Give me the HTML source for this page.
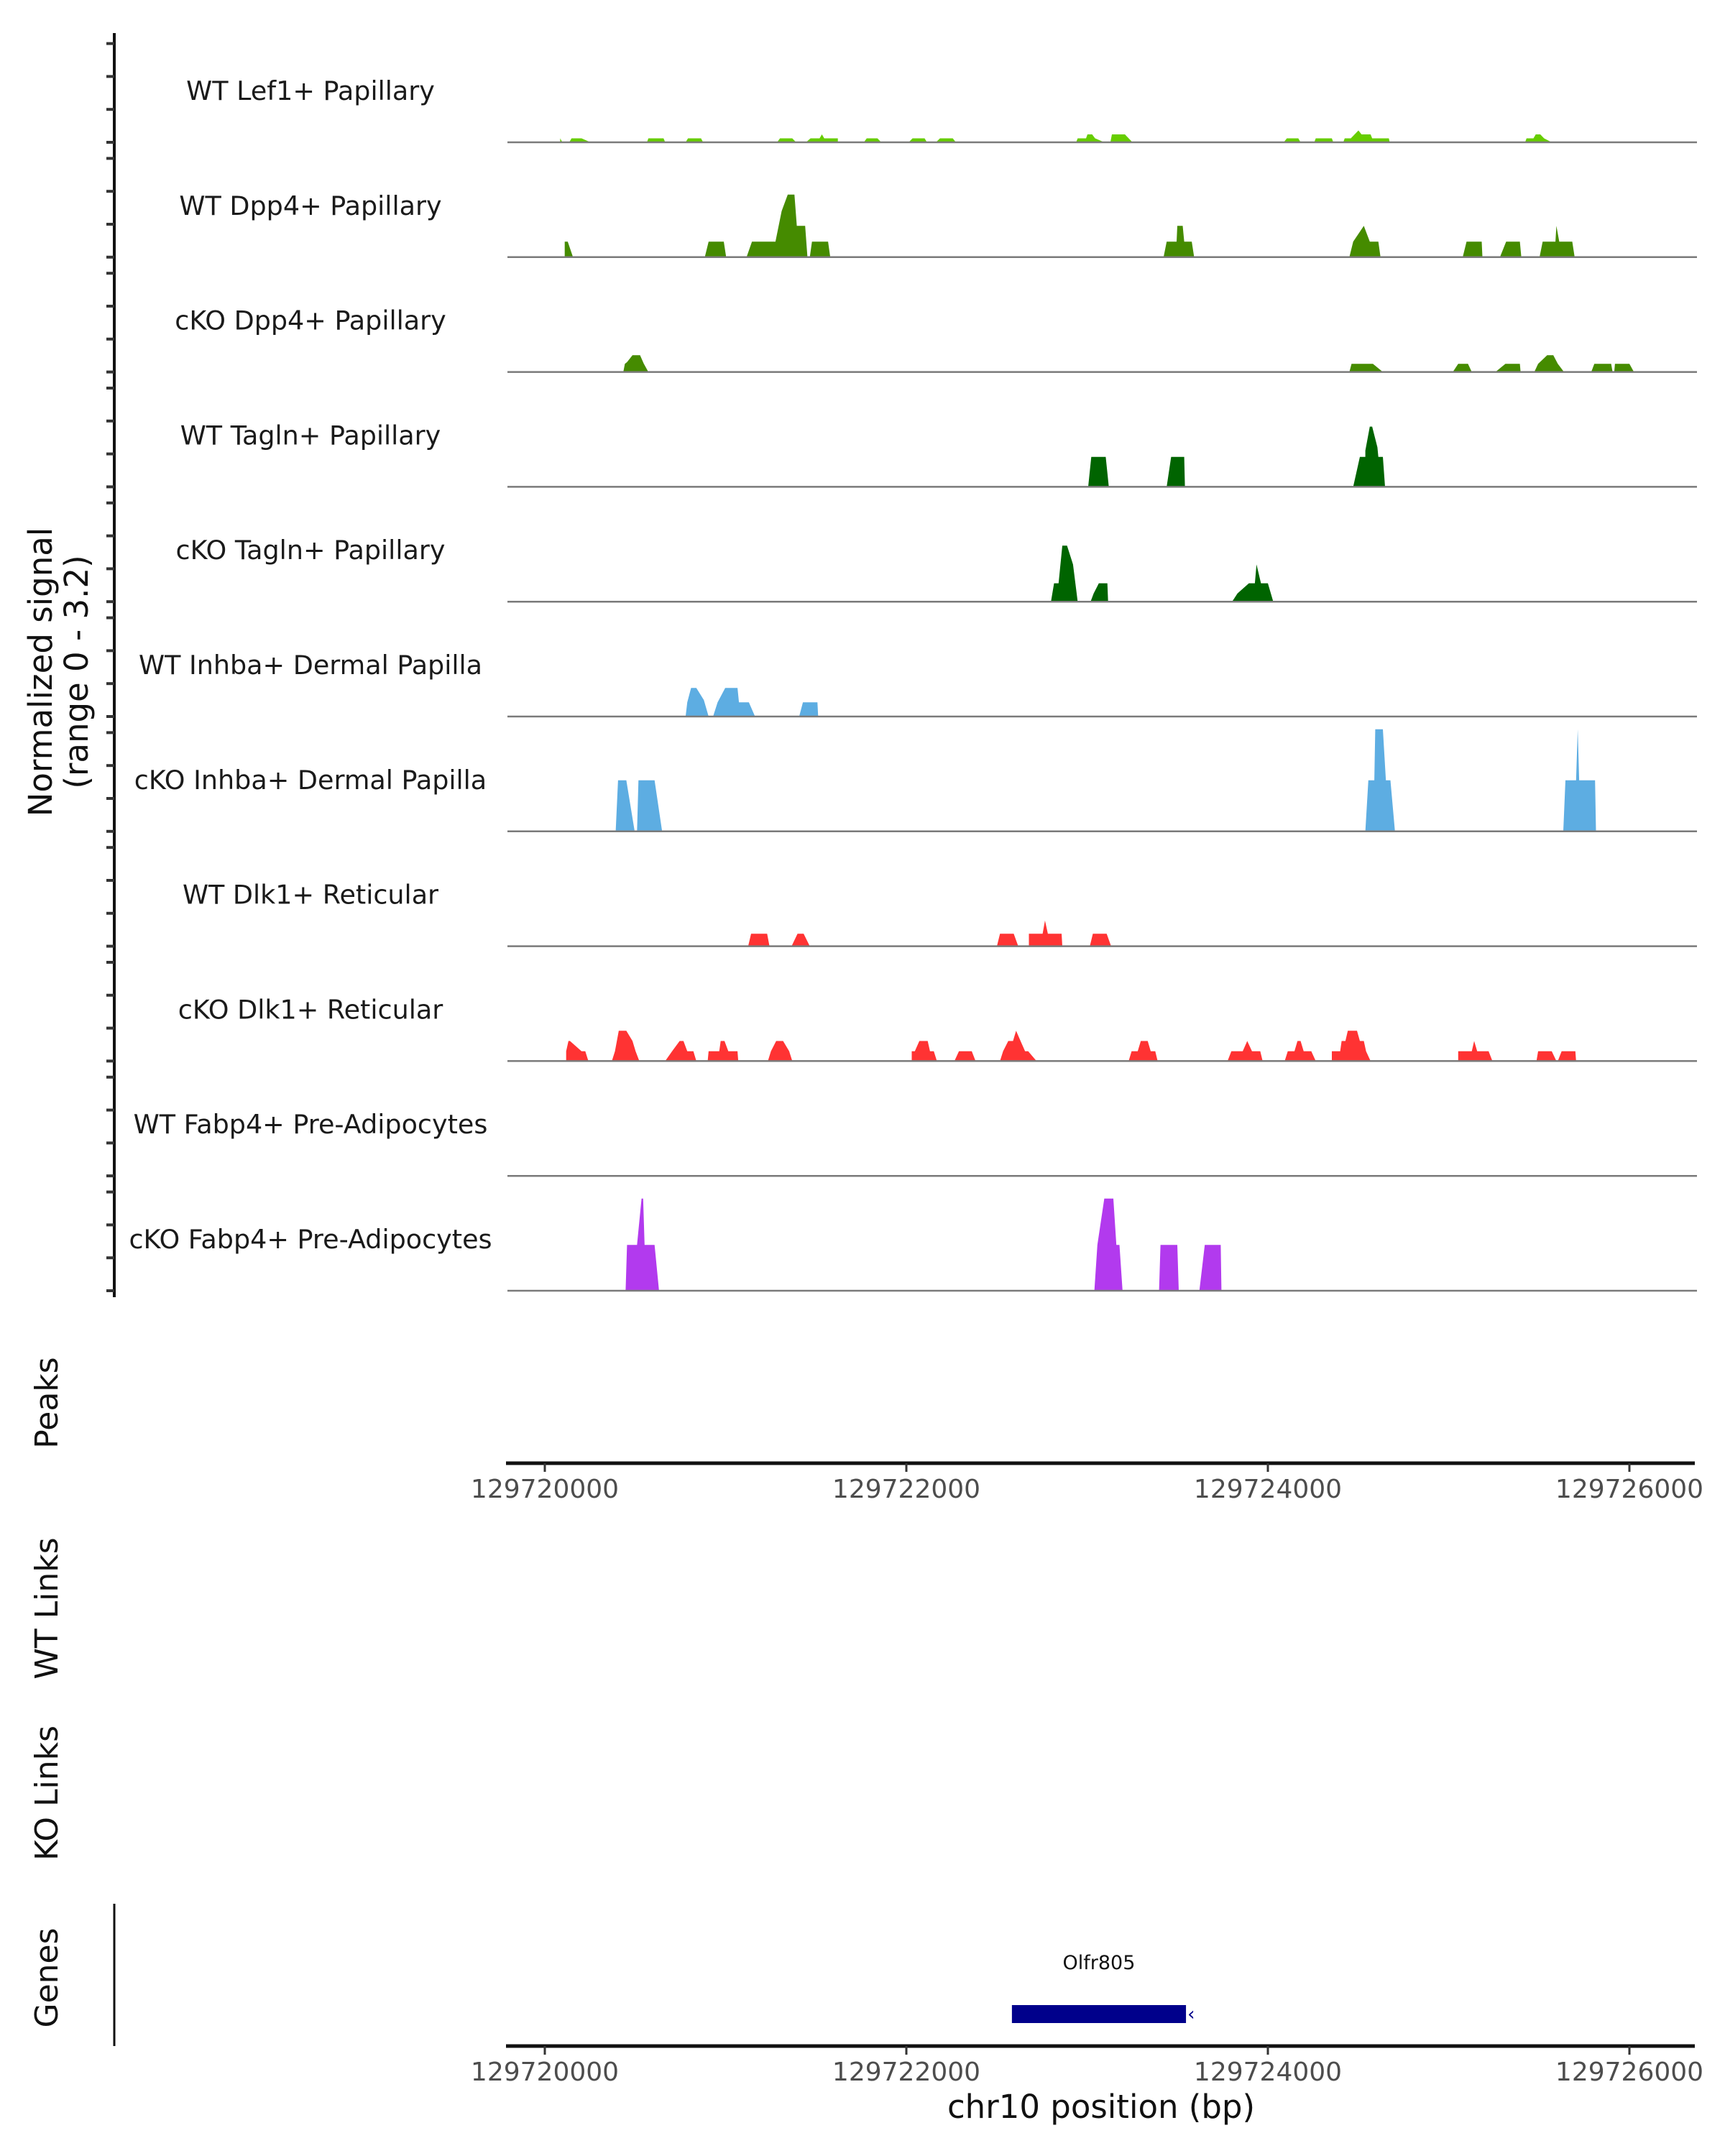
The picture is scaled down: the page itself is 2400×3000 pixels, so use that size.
<!DOCTYPE html>
<html><head><meta charset="utf-8"><style>
html,body{margin:0;padding:0;background:#fff;}
svg{display:block;font-family:"DejaVu Sans","Liberation Sans",sans-serif;}
</style></head><body>
<svg id="chart" width="2400" height="3000" viewBox="0 0 2400 3000" xmlns="http://www.w3.org/2000/svg">
<g id="tracks"></g>
<g id="yaxis"></g>
<text transform="translate(80,935) rotate(-90)" text-anchor="middle" font-size="45" fill="#111"><tspan x="0" dy="-8">Normalized signal</tspan><tspan x="0" dy="50">(range 0 - 3.2)</tspan></text>
<text transform="translate(80,1952) rotate(-90)" text-anchor="middle" font-size="44" fill="#111">Peaks</text>
<text transform="translate(80,2238) rotate(-90)" text-anchor="middle" font-size="44" fill="#111">WT Links</text>
<text transform="translate(80,2495) rotate(-90)" text-anchor="middle" font-size="44" fill="#111">KO Links</text>
<text transform="translate(80,2752) rotate(-90)" text-anchor="middle" font-size="44" fill="#111">Genes</text>
<line x1="159" y1="2649" x2="159" y2="2847" stroke="#111" stroke-width="3"/>
<g id="xaxis1"></g>
<g id="xaxis2"></g>
<g id="genes"></g>
<text x="1532" y="2947" text-anchor="middle" font-size="45" fill="#111">chr10 position (bp)</text>
</svg>
<script>
const NS="http://www.w3.org/2000/svg";
const regionStart=129720000;
const tickValues=[129720000,129722000,129724000,129726000];
const tickLabels=["129720000","129722000","129724000","129726000"];
const trackNames=["WT Lef1+ Papillary","WT Dpp4+ Papillary","cKO Dpp4+ Papillary","WT Tagln+ Papillary","cKO Tagln+ Papillary","WT Inhba+ Dermal Papilla","cKO Inhba+ Dermal Papilla","WT Dlk1+ Reticular","cKO Dlk1+ Reticular","WT Fabp4+ Pre-Adipocytes","cKO Fabp4+ Pre-Adipocytes"];
const trackColors=["#66cd00","#458b00","#458b00","#006400","#006400","#5dade2","#5dade2","#ff3333","#ff3333","#b23aee","#b23aee"];
const lef1WTPos=[85,85,97,135,148,203,253,565,573,657,666,779,792,864,876,1285,1301,1369,1390,1445,1470,1520,1533,1546,1621,1621,1765,1781,1840,1861,2013,2034,2101,2114,2164,2186,2257,2274,2939,2948,2994,3002,3028,3044,3095,3129,3137,3209,3251,4088,4105,4168,4181,4257,4265,4354,4362,4417,4425,4459,4480,4501,4518,4568,4577,4669,4674,5423,5431,5469,5482,5507,5528,5570];
const lef1WTVal=[0,.12,0,0,.12,.12,0,0,.12,.12,0,0,.12,.12,0,0,.12,.12,0,0,.12,.12,.24,.12,.12,0,0,.12,.12,0,0,.12,.12,0,0,.12,.12,0,0,.12,.12,.24,.24,.12,0,0,.24,.24,0,0,.12,.12,0,0,.12,.12,0,0,.12,.12,.24,.36,.24,.24,.12,.12,0,0,.12,.12,.24,.24,.12,0];
const dpp4WTPos=[110,110,127,156,885,906,990,1003,1116,1146,1276,1310,1344,1381,1394,1440,1453,1466,1478,1567,1579,3423,3440,3495,3499,3529,3537,3579,3592,4451,4472,4531,4564,4611,4623,5078,5099,5183,5187,5284,5318,5394,5402,5503,5520,5591,5596,5612,5684,5697];
const dpp4WTVal=[0,.47,.47,0,0,.47,.47,0,0,.47,.47,1.4,1.9,1.9,.95,.95,0,0,.47,.47,0,0,.47,.47,.95,.95,.47,.47,0,0,.47,.95,.47,.47,0,0,.47,.47,0,0,.47,.47,0,0,.47,.47,.95,.47,.47,0];
const dpp4KOPos=[434,443,455,485,527,548,573,4451,4463,4581,4636,5023,5053,5107,5128,5259,5314,5394,5398,5474,5495,5545,5579,5604,5638,5789,5806,5899,5907,5916,5920,6000,6025];
const dpp4KOVal=[0,.25,.3,.51,.51,.25,0,0,.25,.25,0,0,.25,.25,0,0,.25,.25,0,0,.25,.51,.51,.25,0,0,.25,.25,0,0,.25,.25,0];
const taglnWTPos=[3006,3023,3103,3120,3440,3465,3537,3541,4472,4509,4539,4539,4564,4577,4606,4611,4636,4648];
const taglnWTVal=[0,.91,.91,0,0,.91,.91,0,0,.91,.91,1.1,1.83,1.83,1.2,.91,.91,0];
const taglnKOPos=[2800,2817,2842,2863,2889,2922,2948,3019,3036,3065,3112,3116,3802,3832,3895,3928,3937,3962,4000,4030];
const taglnKOVal=[0,.56,.56,1.7,1.7,1.13,0,0,.25,.56,.56,0,0,.25,.56,.56,1.13,.56,.56,0];
const inhbaWTPos=[779,788,809,838,880,906,931,956,998,1066,1074,1129,1163,1407,1428,1508,1512];
const inhbaWTVal=[0,.43,.87,.87,.5,0,0,.43,.87,.87,.43,.43,0,0,.43,.43,0];
const inhbaKOPos=[392,405,451,497,510,518,607,649,4539,4556,4589,4594,4636,4653,4678,4703,5634,5646,5705,5714,5722,5810,5815];
const inhbaKOVal=[0,1.55,1.55,0,0,1.55,1.55,0,0,1.55,1.55,3.1,3.1,1.55,1.55,0,0,1.55,1.55,3.1,1.55,1.55,0];
const dlk1WTPos=[1125,1141,1230,1243,1365,1398,1432,1466,2501,2518,2594,2619,2678,2678,2754,2767,2783,2859,2863,3015,3032,3108,3133];
const dlk1WTVal=[0,.38,.38,0,0,.38,.38,0,0,.38,.38,0,0,.38,.38,.78,.38,.38,0,0,.38,.38,0];
const dlk1KOPos=[118,118,131,139,203,224,241,371,388,409,451,485,502,523,666,704,746,767,788,822,838,901,906,965,973,994,1015,1066,1070,1234,1251,1280,1318,1352,1369,2030,2030,2047,2072,2118,2131,2152,2169,2266,2291,2362,2383,2518,2535,2564,2590,2607,2632,2657,2674,2720,3230,3246,3280,3297,3335,3352,3377,3390,3777,3798,3861,3886,3912,3958,3971,4093,4110,4147,4164,4181,4198,4240,4265,4354,4354,4400,4408,4429,4442,4493,4509,4531,4543,4568,5053,5053,5128,5141,5158,5221,5242,5486,5495,5570,5596,5604,5625,5701,5705];
const dlk1KOVal=[0,.3,.61,.61,.3,.3,0,0,.3,.92,.92,.61,.3,0,0,.3,.61,.61,.3,.3,0,0,.3,.3,.61,.61,.3,.3,0,0,.3,.61,.61,.3,0,0,.3,.3,.61,.61,.3,.3,0,0,.3,.3,0,0,.3,.61,.61,.92,.61,.3,.3,0,0,.3,.3,.61,.61,.3,.3,0,0,.3,.3,.61,.3,.3,0,0,.3,.3,.61,.61,.3,.3,0,0,.3,.3,.61,.61,.92,.92,.61,.61,.3,0,0,.3,.3,.61,.3,.3,0,0,.3,.3,0,0,.3,.3,0];
const fabp4WTPos=[];
const fabp4WTVal=[];
const fabp4KOPos=[447,455,510,535,544,552,607,632,3040,3057,3095,3145,3162,3179,3196,3398,3406,3499,3507,3621,3651,3739,3743];
const fabp4KOVal=[0,1.39,1.39,2.8,2.8,1.39,1.39,0,0,1.39,2.8,2.8,1.39,1.39,0,0,1.39,1.39,0,0,1.39,1.39,0];
const trackPos=[lef1WTPos,dpp4WTPos,dpp4KOPos,taglnWTPos,taglnKOPos,inhbaWTPos,inhbaKOPos,dlk1WTPos,dlk1KOPos,fabp4WTPos,fabp4KOPos];
const trackVal=[lef1WTVal,dpp4WTVal,dpp4KOVal,taglnWTVal,taglnKOVal,inhbaWTVal,inhbaKOVal,dlk1WTVal,dlk1KOVal,fabp4WTVal,fabp4KOVal];
const geneName="Olfr805";
const geneStart=129722584;
const geneEnd=129723547;

const X0=758,X1=2267;
function xs(bp){return X0+(bp-regionStart)/6000*(X1-X0);}
function xsOff(off){return xs(regionStart+off);}
const BASE0=198,TRACK_STEP=159.8,UNIT=45.8;
function baseY(i){return BASE0+i*TRACK_STEP;}
function ys(i,v){return baseY(i)-v*UNIT;}
function mk(tag,attrs,parent){const e=document.createElementNS(NS,tag);for(const k in attrs)e.setAttribute(k,attrs[k]);parent.appendChild(e);return e;}

const tracks=document.getElementById('tracks');
trackNames.forEach((name,i)=>{
  const g=mk('g',{},tracks);
  
  
  const pos=trackPos[i],val=trackVal[i];
  if(pos.length){
    let d='M'+xsOff(pos[0]).toFixed(1)+','+baseY(i).toFixed(1);
    for(let k=0;k<pos.length;k++){d+=' L'+xsOff(pos[k]).toFixed(1)+','+ys(i,val[k]).toFixed(1);}
    d+=' L'+xsOff(pos[pos.length-1]).toFixed(1)+','+baseY(i).toFixed(1)+' Z';
    const p=mk('path',{d:d,fill:trackColors[i],stroke:'none'},g);
    
    
  }
  const bl=mk('line',{x1:706,x2:2361,y1:baseY(i),y2:baseY(i),stroke:'#7a7a7a','stroke-width':2.5},g);
  
  
  const t=mk('text',{x:432,y:baseY(i)-59,'text-anchor':'middle','font-size':36.5,fill:'#1a1a1a'},g);
  t.textContent=name;
  
  
});

const ya=document.getElementById('yaxis');
mk('line',{x1:159,x2:159,y1:46,y2:1805,stroke:'#111','stroke-width':4},ya);
for(let i=0;i<trackNames.length;i++){
  for(let k=0;k<4;k++){
    const y=ys(i,k);
    const tk=mk('line',{x1:148,x2:159,y1:y,y2:y,stroke:'#333','stroke-width':4},ya);
    
    
  }
}

function drawXAxis(g,yLine){
  mk('line',{x1:704,x2:2358,y1:yLine,y2:yLine,stroke:'#111','stroke-width':5},g);
  tickValues.forEach((v,i)=>{
    const x=xs(v);
    const tk=mk('line',{x1:x,x2:x,y1:yLine,y2:yLine+12,stroke:'#333','stroke-width':3},g);
    
    
    const lb=mk('text',{x:x,y:yLine+48,'text-anchor':'middle','font-size':36,fill:'#4d4d4d'},g);
    lb.textContent=tickLabels[i];
    
    
  });
}
drawXAxis(document.getElementById('xaxis1'),2036);
drawXAxis(document.getElementById('xaxis2'),2847);

const gg=document.getElementById('genes');
const gb=mk('rect',{x:xs(geneStart),y:2790,width:xs(geneEnd)-xs(geneStart),height:25,fill:'#00008b'},gg);


const ga=mk('text',{x:xs(geneEnd)+2,y:2811,'font-size':26,fill:'#00008b'},gg);
ga.textContent='‹';


const gl=mk('text',{x:(xs(geneStart)+xs(geneEnd))/2,y:2740,'text-anchor':'middle','font-size':27,fill:'#111'},gg);
gl.textContent=geneName;


</script>
</body></html>
